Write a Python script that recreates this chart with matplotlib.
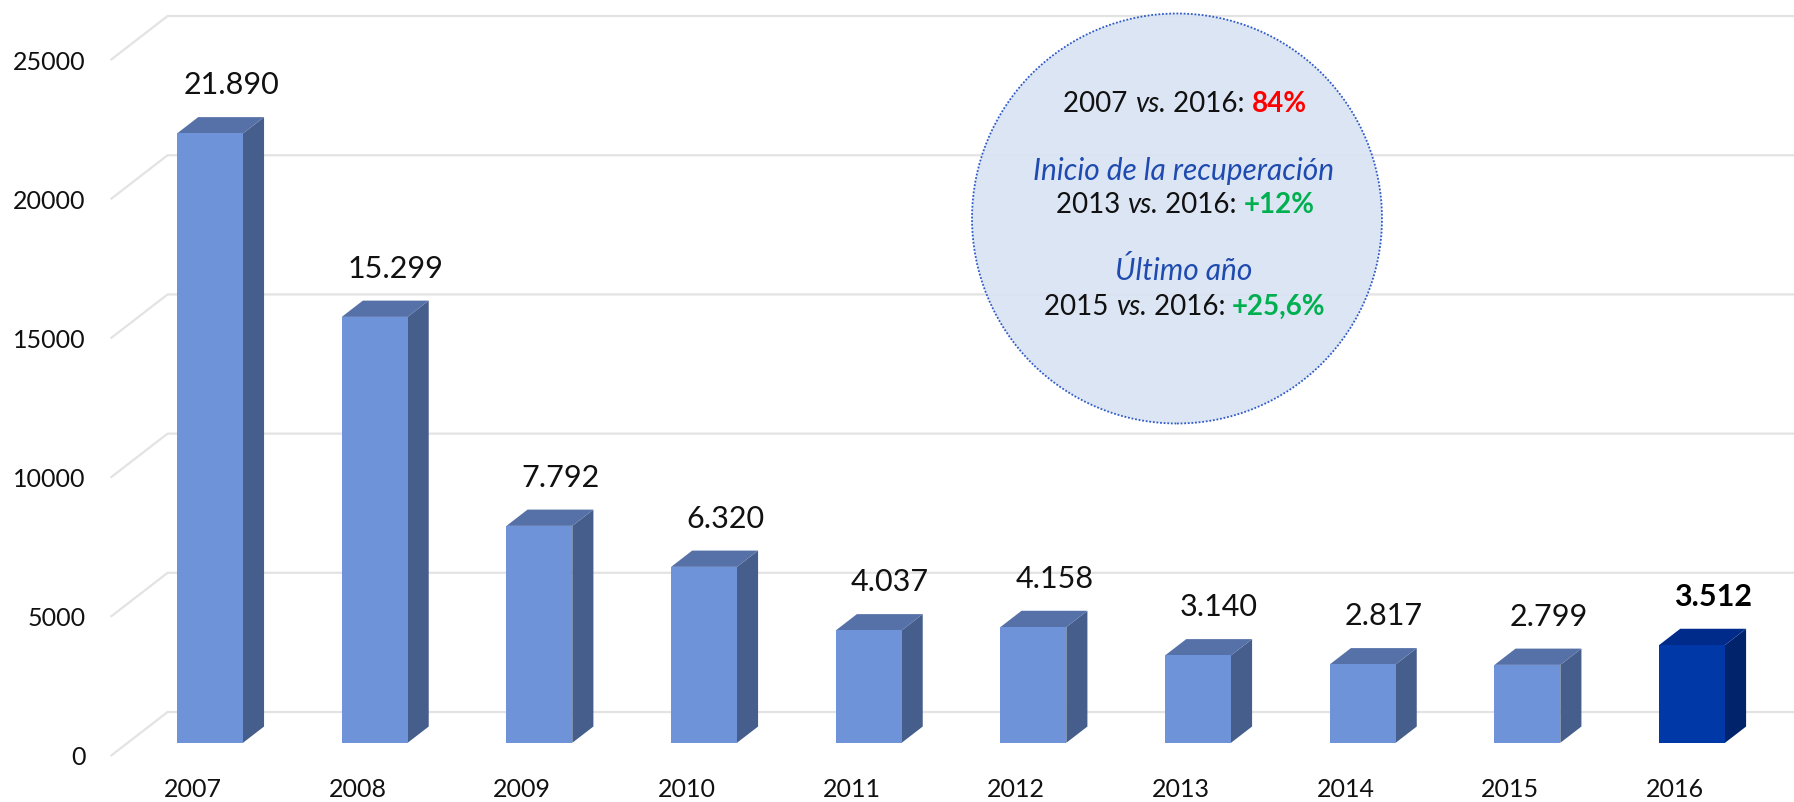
import matplotlib
matplotlib.use("Agg")
import matplotlib.pyplot as plt
from matplotlib.patches import Polygon, Circle

# ---------------- data ----------------
years = ["2007", "2008", "2009", "2010", "2011", "2012", "2013", "2014", "2015", "2016"]
values = [21890, 15299, 7792, 6320, 4037, 4158, 3140, 2817, 2799, 3512]
value_labels = ["21.890", "15.299", "7.792", "6.320", "4.037", "4.158",
                "3.140", "2.817", "2.799", "3.512"]
highlight = [False] * 9 + [True]
yticks = [0, 5000, 10000, 15000, 20000, 25000]

# ---------------- style ----------------
FONT = "Lato"
plt.rcParams["font.family"] = [FONT, "DejaVu Sans"]
TXT = "#111111"
FRONT, TOP, SIDE = "#6f93d8", "#5571a8", "#465e8b"
HFRONT, HTOP, HSIDE = "#0038a8", "#002b8a", "#00236c"
GRID = "#e3e3e3"

W, H = 1794, 802
fig = plt.figure(figsize=(W / 100, H / 100), dpi=100)
ax = fig.add_axes([0.06165, 0.05736, 0.9179, 0.8678])
ax.set_xlim(-0.5, 9.5)
ax.set_ylim(0, 25000)
for s in ax.spines.values():
    s.set_visible(False)

# pseudo-3D depth (data units for full floor depth)
DX, DY = 0.3461, 1580
Z0, Z1 = 0.30, 0.67
HW = 0.20

# gridlines (left wall diagonal + back wall horizontal)
for v in yticks:
    ax.plot([-0.5, -0.5 + DX, 9.5 + DX], [v, v + DY, v + DY], color=GRID,
            lw=1.6, clip_on=False, zorder=1, solid_capstyle="butt")

# bars
ddx, ddy = (Z1 - Z0) * DX, (Z1 - Z0) * DY
for i, (v, hl) in enumerate(zip(values, highlight)):
    fc, tc, sc = (HFRONT, HTOP, HSIDE) if hl else (FRONT, TOP, SIDE)
    x0 = i - HW + Z0 * DX
    x1 = i + HW + Z0 * DX
    y0 = Z0 * DY
    y1 = v + Z0 * DY
    ax.add_patch(Polygon([(x1, y0), (x1 + ddx, y0 + ddy), (x1 + ddx, y1 + ddy), (x1, y1)],
                         closed=True, facecolor=sc, edgecolor="none", zorder=3, clip_on=False))
    ax.add_patch(Polygon([(x0, y1), (x1, y1), (x1 + ddx, y1 + ddy), (x0 + ddx, y1 + ddy)],
                         closed=True, facecolor=tc, edgecolor="none", zorder=3, clip_on=False))
    ax.add_patch(Polygon([(x0, y0), (x1, y0), (x1, y1), (x0, y1)],
                         closed=True, facecolor=fc, edgecolor="none", zorder=4, clip_on=False))
    ax.annotate(value_labels[i], xy=(i + Z1 * DX, v + Z1 * DY), xytext=(0, 23),
                textcoords="offset points", ha="center", va="center",
                fontsize=22, color="black" if hl else TXT,
                fontweight="bold" if hl else "normal", annotation_clip=False, zorder=5)

# axes ticks
ax.set_xticks(range(len(years)))
ax.set_xticklabels(years, fontsize=18, color=TXT)
ax.tick_params(axis="x", length=0, pad=16)
ax.set_yticks(yticks)
ax.set_yticklabels([str(v) for v in yticks], fontsize=18, color=TXT)
ax.tick_params(axis="y", length=0, pad=18)

# circle call-out
ax.add_patch(Circle((11.77, (H - 218.5) / 100), 2.05, transform=fig.dpi_scale_trans,
                    facecolor=(0.855, 0.890, 0.953, 0.93), edgecolor="#2f5bc8",
                    linestyle=(0, (1, 1)), lw=1.3, clip_on=False, zorder=2))

BLUE = "#1f4bb0"
RED = "#ff0000"
GREEN = "#00b050"
N = dict(color=TXT)
IT = dict(color=TXT, style="italic")


def rich_line(parts, size):
    texts = []
    for k, (s, kw) in enumerate(parts):
        if k == 0:
            t = fig.text(0, 0, s, fontsize=size, ha="left", va="center", zorder=6, **kw)
        else:
            t = ax.annotate(s, xy=(1, 0), xycoords=texts[-1], ha="left", va="bottom",
                            fontsize=size, annotation_clip=False, zorder=6, **kw)
        texts.append(t)
    return texts


lines = [
    ([("2007 ", N), ("vs.", IT), (" 2016: ", N), ("84%", dict(color=RED, weight="bold"))], 1185, 104, 20),
    ([("Inicio de la recuperación", dict(color=BLUE, style="italic"))], 1184, 171, 21.5),
    ([("2013 ", N), ("vs.", IT), (" 2016: ", N), ("+12%", dict(color=GREEN, weight="bold"))], 1185, 205, 20),
    ([("Último año", dict(color=BLUE, style="italic"))], 1184, 270, 21.5),
    ([("2015 ", N), ("vs.", IT), (" 2016: ", N), ("+25,6%", dict(color=GREEN, weight="bold"))], 1185, 307, 20),
]
built = [(rich_line(p, sz), xc, yc) for p, xc, yc, sz in lines]
fig.canvas.draw()
r = fig.canvas.get_renderer()
for texts, xc, yc in built:
    b0 = texts[0].get_window_extent(r)
    b1 = texts[-1].get_window_extent(r)
    total = b1.x1 - b0.x0
    texts[0].set_position(((xc - total / 2) / W, (H - yc) / H))

fig.savefig("out.png", dpi=100, facecolor="white")
